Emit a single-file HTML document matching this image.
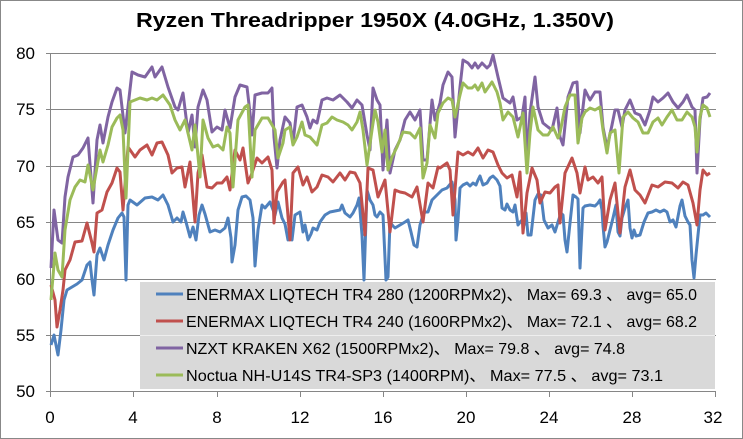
<!DOCTYPE html>
<html><head><meta charset="utf-8"><style>
html,body{margin:0;padding:0;background:#fff;}
svg{display:block;font-family:"Liberation Sans",sans-serif;}
</style></head><body>
<svg width="743" height="439" viewBox="0 0 743 439">
<rect x="0.5" y="0.5" width="742" height="438" fill="#fff" stroke="#888"/>
<text x="375" y="27" text-anchor="middle" font-size="20" font-weight="bold" textLength="478" lengthAdjust="spacingAndGlyphs">Ryzen Threadripper 1950X (4.0GHz, 1.350V)</text>
<g stroke="#868686" stroke-width="1">
<line x1="51" y1="53.5" x2="716" y2="53.5"/>
<line x1="51" y1="109.5" x2="716" y2="109.5"/>
<line x1="51" y1="166.5" x2="716" y2="166.5"/>
<line x1="51" y1="222.5" x2="716" y2="222.5"/>
<line x1="51" y1="279.5" x2="716" y2="279.5"/>
<line x1="51" y1="335.5" x2="716" y2="335.5"/>
<line x1="51" y1="391.5" x2="716" y2="391.5"/>
<line x1="50.5" y1="53" x2="50.5" y2="392"/>
<line x1="46" y1="53.5" x2="51" y2="53.5"/><line x1="46" y1="109.5" x2="51" y2="109.5"/><line x1="46" y1="166.5" x2="51" y2="166.5"/><line x1="46" y1="222.5" x2="51" y2="222.5"/><line x1="46" y1="279.5" x2="51" y2="279.5"/><line x1="46" y1="335.5" x2="51" y2="335.5"/><line x1="46" y1="391.5" x2="51" y2="391.5"/>
<line x1="50.5" y1="391" x2="50.5" y2="397"/><line x1="133.5" y1="391" x2="133.5" y2="397"/><line x1="217.5" y1="391" x2="217.5" y2="397"/><line x1="300.5" y1="391" x2="300.5" y2="397"/><line x1="383.5" y1="391" x2="383.5" y2="397"/><line x1="466.5" y1="391" x2="466.5" y2="397"/><line x1="549.5" y1="391" x2="549.5" y2="397"/><line x1="632.5" y1="391" x2="632.5" y2="397"/><line x1="715.5" y1="391" x2="715.5" y2="397"/>
</g>
<g font-size="17" text-anchor="end">
<text x="35" y="59">80</text><text x="35" y="115">75</text><text x="35" y="172">70</text><text x="35" y="228">65</text><text x="35" y="285">60</text><text x="35" y="341">55</text><text x="35" y="397">50</text>
</g>
<g font-size="17" text-anchor="middle">
<text x="50" y="423">0</text><text x="133" y="423">4</text><text x="217" y="423">8</text><text x="300" y="423">12</text><text x="383" y="423">16</text><text x="466" y="423">20</text><text x="549" y="423">24</text><text x="632" y="423">28</text><text x="713" y="423">32</text>
</g>
<g fill="none" stroke-width="3" stroke-linejoin="round">
<polyline stroke="#4f81bd" points="51,345 54,335 58,355 61,330 64,300 67,290 72,287 77,284 82,280 87,265 90,262 92,280 94,295 97,255 100,248 104,260 108,245 113,230 118,218 122,213 124,217 126,280 128,205 130,200 137,205 145,198 152,197 158,200 163,195 168,205 173,222 177,218 181,222 183,212 186,222 190,237 193,227 196,240 199,215 202,205 205,214 210,232 215,230 220,232 225,228 228,218 231,238 232,262 235,245 238,210 242,197 246,196 250,200 253,218 255,266 258,230 262,205 265,208 270,202 275,215 278,202 282,218 285,224 288,240 290,235 292,240 295,215 300,212 303,232 305,225 308,240 311,234 313,228 317,230 320,222 325,215 330,212 335,211 340,210 342,205 345,213 350,217 353,213 357,205 359,198 362,235 364,280 367,190 370,200 373,205 375,215 377,217 380,212 383,215 386,280 388,277 390,222 393,226 395,228 400,225 405,222 408,220 411,232 414,245 417,247 420,225 423,215 425,212 428,212 432,200 437,195 442,190 447,188 452,182 455,200 456,240 458,220 460,188 463,185 467,183 470,186 473,183 476,185 478,180 480,176 483,185 487,183 490,178 493,176 497,180 500,186 502,208 505,210 507,204 510,210 513,212 515,205 518,225 521,221 524,225 526,213 528,235 531,235 535,200 538,194 541,195 544,220 546,224 548,228 552,225 555,232 558,222 561,213 563,215 565,240 567,252 570,223 573,195 576,197 578,199 580,268 583,208 585,206 590,205 595,206 598,203 600,200 602,210 603,226 605,247 607,242 610,230 613,218 616,205 618,232 620,236 622,218 625,208 628,200 630,228 632,238 634,230 636,236 640,235 644,222 648,213 652,212 656,210 660,212 664,210 667,212 670,222 673,220 676,227 680,206 682,200 685,216 688,222 690,225 692,260 694,278 696,255 700,215 703,215 706,213 710,217"/>
<polyline stroke="#c0504d" points="51,285 55,300 57,327 60,310 63,290 65,270 70,260 75,242 82,241 87,223 92,243 94,252 97,213 102,210 107,192 112,183 117,168 120,172 123,210 128,147 135,157 140,150 147,145 152,155 157,143 162,142 168,155 172,173 177,168 182,167 185,187 190,162 195,222 198,173 202,155 207,187 212,188 217,183 222,183 227,177 230,190 235,150 240,160 243,148 248,183 252,173 257,158 262,163 268,157 272,170 274,223 277,192 283,182 285,180 290,240 293,173 298,167 303,185 307,177 312,192 317,187 322,175 328,177 333,182 340,173 345,180 350,172 355,173 360,183 365,235 368,168 373,170 378,197 385,180 390,232 395,190 400,192 405,193 412,197 417,187 423,222 428,183 433,188 438,167 440,168 447,163 450,170 453,215 458,152 463,155 468,152 473,155 478,148 483,158 488,150 493,152 498,165 502,173 507,178 512,175 517,197 520,172 523,233 527,193 532,168 537,180 540,203 545,192 550,193 555,187 558,185 560,223 565,173 572,158 577,173 580,193 585,167 588,180 593,177 598,183 602,177 605,230 610,200 615,183 620,233 625,187 630,170 635,190 640,195 645,203 652,185 658,187 665,182 672,183 678,188 683,182 688,185 693,203 697,225 700,190 703,170 707,175 710,173"/>
<polyline stroke="#8064a2" points="51,268 54,210 58,240 62,243 65,197 68,177 73,157 78,155 83,148 88,138 93,203 97,140 100,125 103,143 108,117 112,102 117,88 120,90 125,133 132,72 138,75 145,77 152,67 155,77 162,67 168,87 175,107 178,110 183,93 188,133 192,115 195,147 198,107 203,90 207,100 212,132 217,127 222,130 225,110 230,128 235,97 240,85 247,87 250,113 252,135 255,95 262,93 268,93 272,88 274,137 277,168 280,140 285,117 290,123 293,143 297,107 302,105 307,117 310,128 313,120 317,123 322,100 327,98 333,100 340,95 347,102 352,108 357,100 362,105 367,135 370,150 373,88 377,100 380,105 383,170 387,120 390,173 395,150 400,140 405,120 410,112 415,120 420,110 423,160 427,160 432,100 435,120 440,103 443,85 448,72 452,77 455,137 460,87 463,60 468,63 472,68 475,63 478,68 482,63 487,68 490,65 493,55 498,77 503,98 510,103 513,97 517,120 522,117 525,97 527,163 530,113 535,77 538,107 543,123 548,127 552,130 557,108 560,137 563,145 568,97 573,83 577,82 580,133 585,90 590,100 595,92 600,92 603,127 607,148 612,125 615,110 618,110 622,127 625,110 630,100 635,113 640,115 645,125 650,110 653,97 658,102 663,98 668,93 673,102 678,108 683,102 687,95 692,107 695,110 697,173 700,120 703,98 707,97 710,93"/>
<polyline stroke="#9bbb59" points="51,300 55,253 58,270 62,277 65,230 70,200 75,187 80,180 85,182 88,165 93,190 97,167 100,150 103,162 108,145 112,127 117,118 120,115 123,130 126,198 130,102 135,100 140,98 147,100 152,98 157,100 163,95 170,105 175,120 180,130 185,120 188,133 192,150 195,125 200,177 203,120 208,138 213,147 218,145 223,150 227,127 230,133 233,187 238,120 245,107 248,105 252,177 255,130 262,118 268,118 275,130 278,158 283,143 285,130 290,127 293,145 297,137 302,122 305,135 310,137 317,145 322,125 327,123 332,117 337,120 343,122 348,125 352,130 357,122 360,112 363,130 367,165 372,130 375,110 378,122 382,152 385,130 388,170 392,157 397,147 403,132 410,133 415,138 420,128 423,178 427,163 430,125 435,138 438,113 443,103 448,98 452,100 455,117 460,95 463,83 468,88 472,88 475,85 478,90 482,83 485,92 492,82 497,92 500,103 503,120 508,112 513,117 518,137 523,113 527,173 530,133 533,107 538,130 543,135 548,135 553,127 558,138 560,133 565,107 570,95 575,95 578,143 582,118 585,112 590,108 595,110 600,107 603,130 607,153 610,133 615,130 619,173 623,117 628,112 633,118 638,122 643,133 648,133 653,122 658,118 662,125 667,117 672,110 677,120 682,120 687,112 692,117 695,127 697,152 700,117 703,105 707,108 710,117"/>
</g>
<rect x="140" y="282" width="575" height="107" fill="#d9d9d9"/>
<line x1="140" y1="335.5" x2="715" y2="335.5" stroke="#eeeeee" stroke-width="1"/>
<g stroke-width="3">
<line x1="156" y1="294" x2="183" y2="294" stroke="#4f81bd"/>
<line x1="156" y1="321" x2="183" y2="321" stroke="#c0504d"/>
<line x1="156" y1="348" x2="183" y2="348" stroke="#8064a2"/>
<line x1="156" y1="375" x2="183" y2="375" stroke="#9bbb59"/>
</g>
<g font-size="16" font-family="'Liberation Sans','Noto Sans CJK SC',sans-serif">
<text x="186" y="300" textLength="511" lengthAdjust="spacingAndGlyphs">ENERMAX LIQTECH TR4 280 (1200RPMx2)、 Max= 69.3 、 avg= 65.0</text>
<text x="186" y="327" textLength="511" lengthAdjust="spacingAndGlyphs">ENERMAX LIQTECH TR4 240 (1600RPMx2)、 Max= 72.1 、 avg= 68.2</text>
<text x="186" y="354" textLength="439" lengthAdjust="spacingAndGlyphs">NZXT KRAKEN X62 (1500RPMx2)、 Max= 79.8 、 avg= 74.8</text>
<text x="186" y="381" textLength="477" lengthAdjust="spacingAndGlyphs">Noctua NH-U14S TR4-SP3 (1400RPM)、 Max= 77.5 、 avg= 73.1</text>
</g>
</svg>
</body></html>
